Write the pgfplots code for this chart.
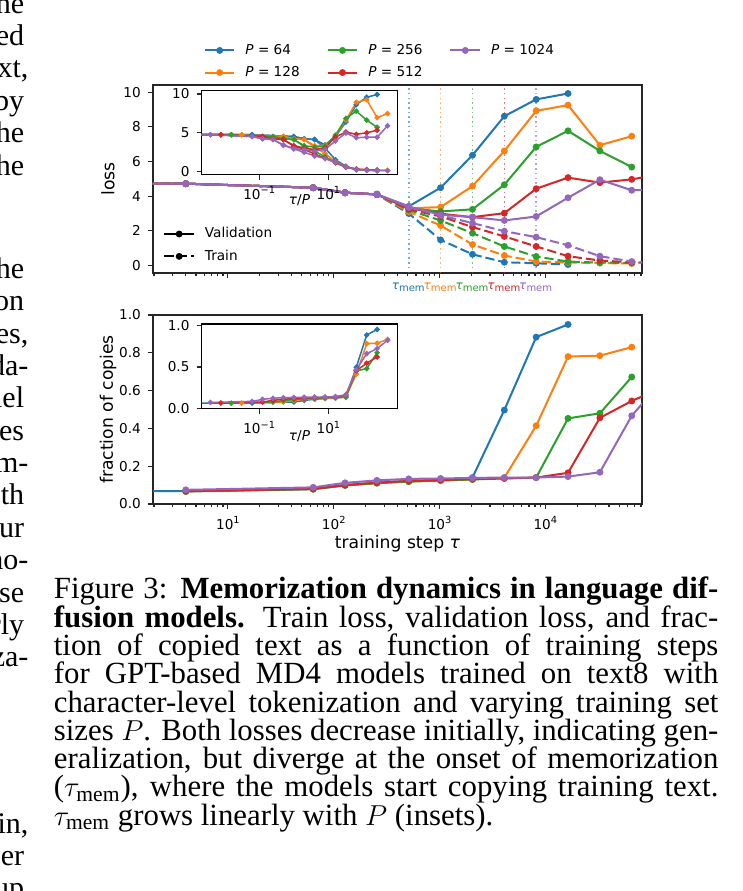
\documentclass[border=0pt]{standalone}
\usepackage{fontspec}
\setmainfont{Liberation Serif}
\newfontfamily\dv{DejaVu Sans}
\usepackage{graphicx}
\usepackage{pgfplots}
\usepackage{pgfplotstable}
\pgfplotsset{compat=1.18}

\definecolor{c0}{HTML}{1F77B4}
\definecolor{c1}{HTML}{FF7F0E}
\definecolor{c2}{HTML}{2CA02C}
\definecolor{c3}{HTML}{D62728}
\definecolor{c4}{HTML}{9467BD}

\newcommand\tkf{\dv\fontsize{6.8}{8}\selectfont}
\newcommand\lbf{\dv\fontsize{8.6}{10}\selectfont}
\newcommand\sups[1]{\raisebox{0.42em}{\fontsize{4.9}{5}\selectfont #1}}
\newcommand\capf{\fontsize{15.4}{14.15}\selectfont}
\newcommand\bodyf{\fontsize{15}{16}\selectfont}
\newcommand\capline[2]{\node[anchor=base west,inner sep=0pt] at (26.75pt,-#1pt) {\capf\makebox[332.25pt][s]{#2}};}
% text of the neighbouring column, cut by the left edge (#1 right end, #2 baseline)
\newcommand\bodyline[3]{\node[anchor=base east,inner sep=0pt] at (#1pt,-#2pt) {\bodyf #3};}
\newcommand\tm[2]{\node[font=\dv\fontsize{6}{7}\selectfont, text=#1, yshift=-7pt] at (axis cs:#2,-0.43) {\textit{τ}\textsubscript{mem}};}
\newcommand\legimg{\draw[mark repeat=2,mark phase=2]}

% step, validation loss, train loss, fraction of copies
\pgfplotstableread{
step val train frac
0.001 4.79 4.79 0.065
4 4.72 4.72 0.068
64 4.49 4.49 0.080
128 4.20 4.20 0.100
256 4.10 4.10 0.113
512 3.41 3.00 0.122
1024 4.49 1.48 0.127
2048 6.36 0.65 0.140
4096 8.61 0.19 0.497
8192 9.58 0.13 0.883
16384 9.92 0.06 0.950
}\tA
\pgfplotstableread{
step val train frac
0.001 4.79 4.79 nan
4 4.72 4.72 0.068
64 4.49 4.49 0.080
128 4.20 4.20 0.100
256 4.10 4.10 0.112
512 3.30 3.10 0.120
1024 3.37 2.31 0.125
2048 4.58 1.21 0.130
4096 6.61 0.58 0.139
8192 8.92 0.23 0.414
16384 9.25 0.18 0.780
32768 6.94 0.14 0.785
65536 7.46 0.12 0.830
}\tB
\pgfplotstableread{
step val train frac
0.001 4.79 4.79 nan
4 4.72 4.72 0.066
64 4.49 4.49 0.078
128 4.20 4.20 0.098
256 4.10 4.10 0.110
512 3.30 3.20 0.118
1024 3.12 2.60 0.124
2048 3.24 1.87 0.130
4096 4.66 1.10 0.135
8192 6.84 0.52 0.140
16384 7.77 0.23 0.453
32768 6.61 0.17 0.480
65536 5.68 0.15 0.672
}\tC
\pgfplotstableread{
step val train frac
0.001 4.79 4.79 nan
4 4.72 4.72 0.068
64 4.49 4.49 0.080
128 4.20 4.20 0.100
256 4.10 4.10 0.113
512 3.32 3.25 0.122
1024 2.99 2.83 0.127
2048 2.79 2.22 0.132
4096 3.02 1.68 0.136
8192 4.43 1.10 0.140
16384 5.07 0.54 0.165
32768 4.78 0.29 0.456
65536 4.97 0.19 0.545
131072 5.30 0.10 0.620
}\tD
\pgfplotstableread{
step val train frac
0.001 4.79 4.79 nan
4 4.72 4.72 0.075
64 4.49 4.49 0.088
128 4.20 4.20 0.112
256 4.10 4.12 0.125
512 3.40 3.35 0.133
1024 2.93 2.89 0.135
2048 2.79 2.45 0.138
4096 2.60 1.98 0.140
8192 2.83 1.64 0.140
16384 3.91 1.17 0.145
32768 4.95 0.54 0.168
65536 4.34 0.23 0.467
131072 4.40 0.12 0.660
262144 4.40 0.08 0.720
524288 5.88 0.06 0.820
}\tE

\tikzset{
  sv/.style={color=#1, line width=1pt, mark=*, mark size=1.2pt, mark options={solid}},
  st/.style={color=#1, line width=1pt, dash pattern=on 4.6pt off 2pt, mark=*, mark size=1.2pt, mark options={solid}},
  si/.style={color=#1, line width=0.75pt, mark=*, mark size=0.95pt},
  sd/.style={color=#1, line width=0.75pt, dash pattern=on 0.75pt off 1.6pt, opacity=0.6},
}

\begin{document}
\begin{tikzpicture}
\useasboundingbox (0,0) rectangle (371.5pt,-445.5pt);
\fill[white] (0,0) rectangle (371.5pt,-445.5pt);
\clip (0,0) rectangle (371.5pt,-445.5pt);

\bodyline{12.25}{6.5}{he}
\bodyline{12.25}{22.7}{ed}
\bodyline{14.4}{38.9}{xt,}
\bodyline{12.25}{55.1}{by}
\bodyline{12.25}{71.3}{he}
\bodyline{12.25}{87.5}{he}
\bodyline{12.25}{139}{he}
\bodyline{12.25}{155.25}{on}
\bodyline{14.4}{171.5}{es,}
\bodyline{14.4}{187.65}{da-}
\bodyline{12.25}{203.85}{lel}
\bodyline{12.25}{220}{es}
\bodyline{14.4}{236.2}{m-}
\bodyline{12.25}{252.4}{th}
\bodyline{12.25}{268.6}{ur}
\bodyline{14.4}{284.8}{no-}
\bodyline{12.25}{301}{se}
\bodyline{12.25}{317.2}{rly}
\bodyline{14.4}{333.4}{za-}
\bodyline{14.4}{416.5}{in,}
\bodyline{12.25}{432.7}{er}
\bodyline{12.25}{448.9}{up}

% caption
\capline{299.4}{Figure 3: \textbf{Memorization dynamics in language dif-}}
\capline{313.55}{\textbf{fusion models.} Train loss, validation loss, and frac-}
\capline{327.7}{tion of copied text as a function of training steps}
\capline{341.85}{for GPT-based MD4 models trained on text8 with}
\capline{356}{character-level tokenization and varying training set}
\capline{370.15}{sizes $P$. Both losses decrease initially, indicating gen-}
\capline{384.3}{eralization, but diverge at the onset of memorization}
\capline{398.45}{($\tau_{\mathrm{mem}}$), where the models start copying training text.}
\node[anchor=base west,inner sep=0pt] at (26.75pt,-412.6pt) {\capf $\tau_{\mathrm{mem}}$ grows linearly with $P$ (insets).};

% top: loss
\begin{axis}[xmode=log, scale only axis, at={(76.5pt,-136.5pt)}, anchor=south west, width=244.5pt, height=94pt,
  tick align=outside, tick pos=left, clip mode=individual,
  axis line style={line width=0.7pt, black!85}, tick style={line width=0.6pt, black!85},
  major tick length=2.6pt, minor tick length=1.5pt,
  tick label style={font=\tkf}, label style={font=\lbf},
  yticklabel style={/pgf/number format/assume math mode=true},
  xmin=1.96, xmax=81920, xtick={10,100,1000,10000}, xticklabels={},
  minor xtick={2,3,4,5,6,7,8,9,20,30,40,50,60,70,80,90,200,300,400,500,600,700,800,900,2000,3000,4000,5000,6000,7000,8000,9000,20000,30000,40000,50000,60000,70000,80000},
  ymin=-0.43, ymax=10.41, ytick={0,2,4,6,8,10},
  ylabel={loss}, ylabel style={at={(axis description cs:-0.092,0.5)}, anchor=center},
  legend cell align=left,
  legend style={at={(axis description cs:0.0204,0.245)}, anchor=north west,
    draw=none, fill=none, inner sep=0pt, font=\tkf, nodes={inner sep=0pt}, row sep=4.5pt,
    /tikz/every odd column/.append style={column sep=5pt}},
  legend image code/.code={\legimg[#1] plot coordinates {(0pt,0pt) (7.4pt,0pt) (14.8pt,0pt)};}]
\addplot[sd=c0, forget plot] coordinates {(512,-0.43) (512,10.41)};
\addplot[sd=c1, forget plot] coordinates {(1024,-0.43) (1024,10.41)};
\addplot[sd=c2, forget plot] coordinates {(2048,-0.43) (2048,10.41)};
\addplot[sd=c3, forget plot] coordinates {(4096,-0.43) (4096,10.41)};
\addplot[sd=c4, forget plot] coordinates {(8192,-0.43) (8192,10.41)};
\addplot[sv=c0, forget plot] table[x=step,y=val]{\tA};
\addplot[st=c0, forget plot] table[x=step,y=train]{\tA};
\addplot[sv=c1, forget plot] table[x=step,y=val]{\tB};
\addplot[st=c1, forget plot] table[x=step,y=train]{\tB};
\addplot[sv=c2, forget plot] table[x=step,y=val]{\tC};
\addplot[st=c2, forget plot] table[x=step,y=train]{\tC};
\addplot[sv=c3, forget plot] table[x=step,y=val]{\tD};
\addplot[st=c3, forget plot] table[x=step,y=train]{\tD};
\addplot[sv=c4, forget plot] table[x=step,y=val]{\tE};
\addplot[st=c4, forget plot] table[x=step,y=train]{\tE};
\addlegendimage{sv=black}\addlegendentry{Validation}
\addlegendimage{st=black}\addlegendentry{Train}
\tm{c0}{512}
\tm{c1}{1024}
\tm{c2}{2048}
\tm{c3}{4096}
\tm{c4}{8192}
\end{axis}

% legend of the training set sizes
\begin{axis}[at={(76.5pt,-136.5pt)}, anchor=south west, scale only axis, width=244.5pt, height=94pt,
  hide axis, xmin=0, xmax=1, ymin=0, ymax=1, legend columns=3, legend cell align=left,
  legend style={at={(axis description cs:0.462,1.125)}, anchor=center,
    draw=none, fill=none, inner sep=0pt, font=\tkf, nodes={inner sep=0pt}, row sep=4.5pt,
    /tikz/every odd column/.append style={column sep=5pt},
    /tikz/every even column/.append style={column sep=13.5pt}},
  legend image code/.code={\legimg[#1] plot coordinates {(0pt,0pt) (7.4pt,0pt) (14.8pt,0pt)};}]
\addlegendimage{sv=c0}\addlegendentry{\textit{P} = 64}
\addlegendimage{sv=c2}\addlegendentry{\textit{P} = 256}
\addlegendimage{sv=c4}\addlegendentry{\textit{P} = 1024}
\addlegendimage{sv=c1}\addlegendentry{\textit{P} = 128}
\addlegendimage{sv=c3}\addlegendentry{\textit{P} = 512}
\end{axis}

% top inset
\begin{axis}[xmode=log, scale only axis, at={(100.85pt,-87.15pt)}, anchor=south west, width=97.8pt, height=41.8pt,
  tick align=outside, tick pos=left, axis background/.style={fill=white},
  axis line style={line width=0.55pt, black}, tick style={line width=0.6pt, black!85},
  major tick length=2.6pt, tick label style={font=\tkf}, label style={font=\tkf},
  yticklabel style={/pgf/number format/assume math mode=true},
  xmin=0.00218, xmax=980, xtick={0.1,10}, xticklabels={10\sups{−1},10\sups{1}}, minor xtick={},
  ymin=-0.4, ymax=10.42, ytick={0,5,10},
  xlabel={\textit{τ}/\textit{P}}, xlabel style={at={(axis description cs:0.5,-0.31)}, anchor=center}]
\addplot[si=c0] table[x expr=\thisrow{step}/64,y=val]{\tA};
\addplot[si=c0] table[x expr=\thisrow{step}/64,y=train]{\tA};
\addplot[si=c1] table[x expr=\thisrow{step}/128,y=val]{\tB};
\addplot[si=c1] table[x expr=\thisrow{step}/128,y=train]{\tB};
\addplot[si=c2] table[x expr=\thisrow{step}/256,y=val]{\tC};
\addplot[si=c2] table[x expr=\thisrow{step}/256,y=train]{\tC};
\addplot[si=c3] table[x expr=\thisrow{step}/512,y=val]{\tD};
\addplot[si=c3] table[x expr=\thisrow{step}/512,y=train]{\tD};
\addplot[si=c4] table[x expr=\thisrow{step}/1024,y=val]{\tE};
\addplot[si=c4] table[x expr=\thisrow{step}/1024,y=train]{\tE};
\end{axis}

% bottom: fraction of copies
\begin{axis}[xmode=log, scale only axis, at={(76.5pt,-252pt)}, anchor=south west, width=244.5pt, height=94.5pt,
  tick align=outside, tick pos=left,
  axis line style={line width=0.7pt, black!85}, tick style={line width=0.6pt, black!85},
  major tick length=2.6pt, minor tick length=1.5pt,
  tick label style={font=\tkf}, label style={font=\lbf},
  xmin=1.96, xmax=81920, xtick={10,100,1000,10000},
  xticklabels={10\sups{1},10\sups{2},10\sups{3},10\sups{4}},
  minor xtick={2,3,4,5,6,7,8,9,20,30,40,50,60,70,80,90,200,300,400,500,600,700,800,900,2000,3000,4000,5000,6000,7000,8000,9000,20000,30000,40000,50000,60000,70000,80000},
  ymin=0, ymax=1, ytick={0,0.2,0.4,0.6,0.8,1},
  yticklabel style={/pgf/number format/.cd, fixed, fixed zerofill, precision=1, assume math mode=true},
  ylabel={fraction of copies}, ylabel style={at={(axis description cs:-0.092,0.5)}, anchor=center},
  xlabel={training step \textit{τ}}, xlabel style={at={(axis description cs:0.5,-0.21)}, anchor=center}]
\addplot[sv=c0] table[x=step,y=frac]{\tA};
\addplot[sv=c1] table[x=step,y=frac]{\tB};
\addplot[sv=c2] table[x=step,y=frac]{\tC};
\addplot[sv=c3] table[x=step,y=frac]{\tD};
\addplot[sv=c4] table[x=step,y=frac]{\tE};
\end{axis}

% bottom inset
\begin{axis}[xmode=log, scale only axis, at={(100.85pt,-204.35pt)}, anchor=south west, width=97.8pt, height=42.35pt,
  tick align=outside, tick pos=left, axis background/.style={fill=white},
  axis line style={line width=0.55pt, black}, tick style={line width=0.6pt, black!85},
  major tick length=2.6pt, tick label style={font=\tkf}, label style={font=\tkf},
  xmin=0.00218, xmax=980, xtick={0.1,10}, xticklabels={10\sups{−1},10\sups{1}}, minor xtick={},
  ymin=0, ymax=1.015, ytick={0,0.5,1},
  yticklabel style={/pgf/number format/.cd, fixed, fixed zerofill, precision=1, assume math mode=true},
  xlabel={\textit{τ}/\textit{P}}, xlabel style={at={(axis description cs:0.5,-0.33)}, anchor=center}]
\addplot[si=c0] table[x expr=\thisrow{step}/64,y=frac]{\tA};
\addplot[si=c1] table[x expr=\thisrow{step}/128,y=frac]{\tB};
\addplot[si=c2] table[x expr=\thisrow{step}/256,y=frac]{\tC};
\addplot[si=c3] table[x expr=\thisrow{step}/512,y=frac]{\tD};
\addplot[si=c4] table[x expr=\thisrow{step}/1024,y=frac]{\tE};
\end{axis}
\end{tikzpicture}
\end{document}
